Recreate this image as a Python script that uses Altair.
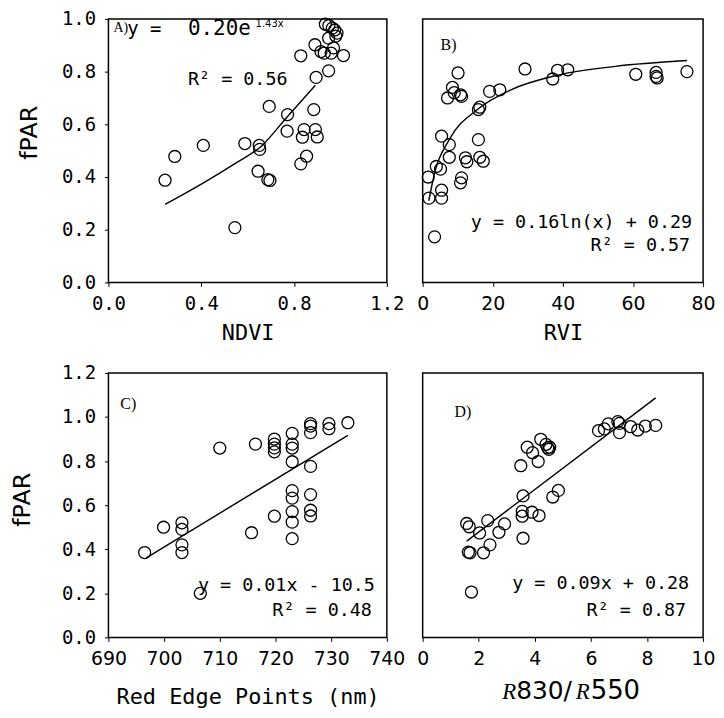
import altair as alt
import pandas as pd

# ---------------- data ----------------
# Panel A: fPAR vs NDVI
ndvi = [0.244, 0.286, 0.409, 0.545, 0.588, 0.650, 0.652, 0.645, 0.687, 0.696,
        0.693, 0.772, 0.770, 0.829, 0.836, 0.843, 0.829, 0.854, 0.885, 0.892,
        0.900, 0.895, 0.890, 0.916, 0.930, 0.949, 0.935, 0.950, 0.965, 0.975,
        0.985, 0.980, 0.949, 0.960, 1.013, 0.970]
fpar_a = [0.388, 0.478, 0.520, 0.208, 0.527, 0.520, 0.505, 0.422, 0.390, 0.387,
          0.668, 0.637, 0.574, 0.860, 0.551, 0.580, 0.450, 0.479, 0.656, 0.580,
          0.552, 0.778, 0.902, 0.876, 0.870, 0.803, 0.980, 0.975, 0.965, 0.958,
          0.946, 0.935, 0.927, 0.870, 0.861, 0.890]
fit_a_x = [0.244, 0.404, 0.545, 0.659, 0.772, 0.892]
fit_a_y = [0.296, 0.375, 0.451, 0.517, 0.630, 0.748]

# Panel B: fPAR vs RVI
rvi = [1.8, 1.6, 3.4, 3.9, 5.1, 5.4, 5.4, 5.4, 7.6, 7.6, 7.1, 8.5, 9.0, 10.1,
       10.8, 11.1, 10.8, 11.1, 12.2, 12.6, 15.9, 16.3, 15.9, 16.3, 17.3, 19.1,
       22.0, 29.2, 37.1, 38.5, 41.4, 60.8, 66.6, 66.6, 66.9, 75.4]
fpar_b = [0.32, 0.40, 0.173, 0.44, 0.43, 0.32, 0.35, 0.555, 0.523, 0.475, 0.70,
          0.74, 0.72, 0.795, 0.712, 0.706, 0.378, 0.397, 0.473, 0.458, 0.656,
          0.665, 0.542, 0.475, 0.46, 0.725, 0.731, 0.81, 0.772, 0.805, 0.807,
          0.79, 0.797, 0.782, 0.776, 0.80]
fit_b_x = [1.75, 3.5, 7.5, 16.0, 25.0, 38.0, 55.0, 75.4]
fit_b_y = [0.31, 0.42, 0.54, 0.66, 0.73, 0.785, 0.82, 0.842]

# Panel C: fPAR vs red edge point (nm)
red_edge = [696.5, 699.9, 703.2, 703.2, 703.2, 703.2, 706.5, 710.0, 715.7, 716.4,
            719.8, 719.8, 719.8, 719.8, 719.8,
            723.0, 723.0, 723.0, 723.0, 723.0, 723.0, 723.0, 723.0, 723.0,
            726.3, 726.3, 726.3, 726.3, 726.3, 726.3, 726.3,
            729.6, 729.6, 733.0]
fpar_c = [0.385, 0.50, 0.52, 0.49, 0.42, 0.385, 0.20, 0.859, 0.475, 0.877,
          0.90, 0.877, 0.842, 0.86, 0.55,
          0.926, 0.877, 0.859, 0.797, 0.666, 0.632, 0.571, 0.523, 0.448,
          0.97, 0.959, 0.929, 0.776, 0.648, 0.577, 0.551,
          0.97, 0.947, 0.974]
fit_c_x = [696.8, 733.0]
fit_c_y = [0.361, 0.917]

# Panel D: fPAR vs R830/R550
ratio = [1.57, 1.66, 1.74, 1.63, 1.69, 2.03, 2.17, 2.32, 2.40, 2.72, 2.92, 3.50,
         3.55, 3.55, 3.58, 3.58, 3.73, 3.92, 3.90, 4.12, 4.15, 4.21, 4.40, 4.46,
         4.50, 4.53, 4.64, 4.84, 6.27, 6.48, 6.62, 6.96, 7.02, 7.02, 7.42, 7.67,
         7.94, 8.31]
fpar_d = [0.517, 0.502, 0.206, 0.387, 0.384, 0.474, 0.384, 0.530, 0.420, 0.477,
          0.515, 0.779, 0.572, 0.550, 0.642, 0.450, 0.863, 0.838, 0.568, 0.798,
          0.553, 0.899, 0.876, 0.860, 0.853, 0.863, 0.637, 0.667, 0.938, 0.946,
          0.969, 0.979, 0.971, 0.929, 0.956, 0.941, 0.959, 0.962]
fit_d_x = [1.57, 8.31]
fit_d_y = [0.437, 1.087]

# axis ticks / labels
ticks_a_x = [0.0, 0.4, 0.8, 1.2]
ticks_b_x = [0, 20, 40, 60, 80]
ticks_c_x = [690, 700, 710, 720, 730, 740]
ticks_d_x = [0, 2, 4, 6, 8, 10]
ticks_y_top = [0.0, 0.2, 0.4, 0.6, 0.8, 1.0]
ticks_y_bottom = [0.0, 0.2, 0.4, 0.6, 0.8, 1.0, 1.2]

MONO = "DejaVu Sans Mono"
SANS = "DejaVu Sans"
SERIF = "Liberation Serif"


def x_axis(values, fmt, title, title_y, font=MONO, size=19):
    return alt.Axis(values=values, format=fmt, title=title, titleY=title_y,
                    titleBaseline="middle", titleFont=MONO, titleFontSize=22,
                    titleFontWeight="normal", titleColor="black",
                    labelFont=font, labelFontSize=size, labelColor="black",
                    labelFlush=False, labelOverlap=False, labelPadding=8,
                    ticks=True, tickSize=4, tickColor="black", domain=False,
                    grid=False)


def y_axis(values, title_x, title_y):
    return alt.Axis(values=values, format=".1f", title="fPAR",
                    titleX=title_x, titleY=title_y, titleAngle=-90,
                    titleAlign="center", titleBaseline="middle",
                    titleFont=SANS, titleFontSize=24, titleFontWeight="normal",
                    titleColor="black",
                    labelFont=MONO, labelFontSize=19, labelColor="black",
                    labelPadding=9, labelOverlap=False,
                    ticks=True, tickSize=4, tickColor="black", domain=False,
                    grid=False)


def text_layer(s, px, py, size, font=MONO, align="left", baseline="alphabetic",
               style="normal"):
    return alt.Chart(pd.DataFrame({"t": [s]})).mark_text(
        font=font, fontSize=size, align=align, baseline=baseline,
        fontStyle=style, color="black"
    ).encode(x=alt.value(px), y=alt.value(py), text="t:N")


def panel(xs, ys, fx, fy, xenc_scale, yenc_scale, xaxis, yaxis, texts, w, h,
          interp="linear"):
    pts = pd.DataFrame({"x": xs, "y": ys})
    fit = pd.DataFrame({"x": fx, "y": fy})
    X = alt.X("x:Q", scale=xenc_scale, axis=xaxis)
    Y = alt.Y("y:Q", scale=yenc_scale, axis=yaxis)
    p = alt.Chart(pts).mark_point(shape="circle", filled=False, color="black",
                                  size=145, strokeWidth=1.3, opacity=1
                                  ).encode(x=X, y=Y)
    l = alt.Chart(fit).mark_line(color="black", strokeWidth=1.4,
                                 interpolate=interp).encode(x=X, y=Y)
    return alt.layer(p, l, *texts).properties(width=w, height=h)


W1, W2 = 280, 282
H1, H2 = 265, 266

A = panel(ndvi, fpar_a, fit_a_x, fit_a_y,
          alt.Scale(domain=[0, 1.2], nice=False, zero=False),
          alt.Scale(domain=[0, 1.0], nice=False),
          x_axis(ticks_a_x, ".1f", "NDVI", 50),
          y_axis(ticks_y_top, -79, 114),
          [text_layer("A)", 5, 13, 14, font=SERIF),
           text_layer("y =", 19, 16, 19),
           text_layer("0.20e", 80, 16, 21),
           text_layer("1.43x", 148, 8, 10, font=SANS),
           text_layer("R\u00b2 = 0.56", 80, 66, 18.5)],
          W1, H1, interp="monotone")

B = panel(rvi, fpar_b, fit_b_x, fit_b_y,
          alt.Scale(domain=[0, 80], nice=False, zero=False),
          alt.Scale(domain=[0, 1.0], nice=False),
          x_axis(ticks_b_x, "d", "RVI", 50, font=SANS, size=19),
          None,
          [text_layer("B)", 18, 31, 16, font=SERIF),
           text_layer("y = 0.16ln(x) + 0.29", 271, 210, 18.5, align="right"),
           text_layer("R\u00b2 = 0.57", 269, 233, 18.5, align="right")],
          W2, H1, interp="monotone")

C = panel(red_edge, fpar_c, fit_c_x, fit_c_y,
          alt.Scale(domain=[690, 740], nice=False, zero=False),
          alt.Scale(domain=[0, 1.2], nice=False),
          x_axis(ticks_c_x, "d", "Red Edge Points (nm)", 59, font=SANS, size=19),
          y_axis(ticks_y_bottom, -86, 127),
          [text_layer("C)", 12, 36, 16, font=SERIF),
           text_layer("y = 0.01x - 10.5", 268, 219, 18.5, align="right"),
           text_layer("R\u00b2 = 0.48", 265, 244, 18.5, align="right")],
          W1, H2)

D = panel(ratio, fpar_d, fit_d_x, fit_d_y,
          alt.Scale(domain=[0, 10], nice=False, zero=False),
          alt.Scale(domain=[0, 1.2], nice=False),
          x_axis(ticks_d_x, "d", "", 57, font=SANS, size=19),
          None,
          [text_layer("D)", 32, 44, 16, font=SERIF),
           text_layer("y = 0.09x + 0.28", 268, 217, 18.5, align="right"),
           text_layer("R\u00b2 = 0.87", 265, 244, 18.5, align="right"),
           text_layer("R", 80, H2 + 62, 23, font=SERIF, style="italic"),
           text_layer("830/", 94, H2 + 62, 25, font=SANS),
           text_layer("R", 154, H2 + 62, 23, font=SERIF, style="italic"),
           text_layer("550", 169, H2 + 62, 26, font=SANS)],
          W2, H2)

chart = alt.concat(A, B, C, D, columns=2, bounds="flush",
                   spacing={"row": 91, "column": 36}).properties(
    padding={"left": 2, "top": -1, "right": 0, "bottom": 0},
    background="white",
).configure_view(stroke="black", strokeWidth=1.5).configure_axis(
    labelFontWeight="normal"
)

chart.save("out.html", embed_options={"renderer": "svg", "actions": False})
